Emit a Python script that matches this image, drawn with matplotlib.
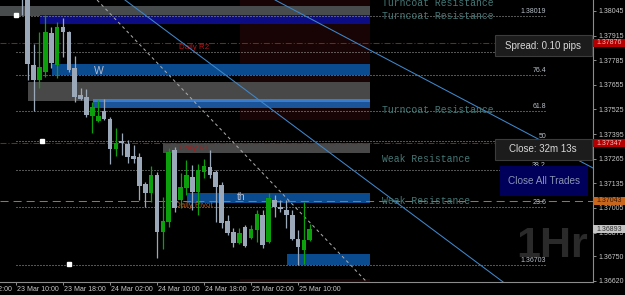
import matplotlib
matplotlib.use("Agg")
import matplotlib.pyplot as plt
import matplotlib.transforms as mtransforms
from matplotlib.patches import Rectangle

plt.rcParams['font.family'] = ['Liberation Sans', 'DejaVu Sans']
plt.rcParams['lines.scale_dashes'] = False

# ---------------- data (hourly candles, bar index 0 = 23 Mar 10:00) ----------------
bar_index = list(range(1, 51))
opens = [1.38182, 1.38119, 1.37760, 1.37681, 1.37723, 1.37929, 1.37760, 1.37960, 1.37934, 1.37744,
         1.37601, 1.37591, 1.37491, 1.37464, 1.37517, 1.37475, 1.37316, 1.37359, 1.37343, 1.37279,
         1.37274, 1.37131, 1.37084, 1.37179, 1.36878, 1.36931, 1.37311, 1.37047, 1.37110, 1.37168,
         1.37089, 1.37195, 1.37221, 1.37195, 1.37126, 1.36936, 1.36878, 1.36820, 1.36904, 1.36846,
         1.36889, 1.36968, 1.36825, 1.37047, 1.37010, 1.36994, 1.36968, 1.36841, 1.36783, 1.36836]
highs = [1.38235, 1.38156, 1.37871, 1.37934, 1.38024, 1.37960, 1.37987, 1.38008, 1.37939, 1.37807,
         1.37638, 1.37633, 1.37564, 1.37575, 1.37580, 1.37485, 1.37427, 1.37401, 1.37364, 1.37337,
         1.37295, 1.37142, 1.37226, 1.37195, 1.37063, 1.37322, 1.37327, 1.37189, 1.37258, 1.37231,
         1.37237, 1.37263, 1.37311, 1.37205, 1.37142, 1.36968, 1.36899, 1.36899, 1.36915, 1.36915,
         1.36994, 1.36994, 1.37084, 1.37075, 1.37047, 1.37047, 1.36994, 1.36889, 1.37037, 1.36920]
lows = [1.38024, 1.37681, 1.37517, 1.37638, 1.37696, 1.37744, 1.37691, 1.37802, 1.37723, 1.37564,
        1.37575, 1.37485, 1.37401, 1.37459, 1.37469, 1.37237, 1.37279, 1.37285, 1.37242, 1.37242,
        1.37047, 1.37010, 1.37037, 1.36741, 1.36788, 1.36904, 1.36984, 1.37005, 1.37075, 1.36994,
        1.36968, 1.37163, 1.37163, 1.36931, 1.36899, 1.36862, 1.36799, 1.36815, 1.36799, 1.36841,
        1.36825, 1.36794, 1.36820, 1.36957, 1.36984, 1.36899, 1.36836, 1.36704, 1.36709, 1.36831]
closes = [1.38129, 1.37765, 1.37681, 1.37749, 1.37934, 1.37770, 1.37960, 1.37934, 1.37733, 1.37591,
          1.37580, 1.37496, 1.37538, 1.37491, 1.37475, 1.37316, 1.37348, 1.37348, 1.37274, 1.37263,
          1.37121, 1.37084, 1.37179, 1.36878, 1.36936, 1.37300, 1.37005, 1.37116, 1.37179, 1.37089,
          1.37205, 1.37226, 1.37179, 1.37116, 1.36926, 1.36873, 1.36820, 1.36873, 1.36804, 1.36894,
          1.36973, 1.36810, 1.37058, 1.37010, 1.36999, 1.36968, 1.36841, 1.36799, 1.36836, 1.36893]

time_tick_bars = [-8, 0, 8, 16, 24, 32, 40, 48]
time_tick_labels = ["23 Mar 02:00", "23 Mar 10:00", "23 Mar 18:00", "24 Mar 02:00",
                    "24 Mar 10:00", "24 Mar 18:00", "25 Mar 02:00", "25 Mar 10:00"]

price_ticks = [1.38045, 1.37915, 1.37785, 1.37655, 1.37525, 1.37395,
               1.37265, 1.37135, 1.37005, 1.36875, 1.36750, 1.36620]
price_tick_labels = ["1.38045", "1.37915", "1.37785", "1.37655", "1.37525", "1.37395",
                     "1.37265", "1.37135", "1.37005", "1.36875", "1.36750", "1.36620"]

# supply / demand zones
zone_start = [-3, 4.1, 6.1, 2.0, 13.05, 13.05, 25.0, 29.1, 46.1]
zone_end = [60.3, 60.3, 60.3, 60.3, 60.3, 60.3, 60.3, 60.3, 60.3]
zone_top = [1.38071, 1.38024, 1.37765, 1.37670, 1.37575, 1.37580, 1.37348, 1.37084, 1.36762]
zone_bottom = [1.38019, 1.37976, 1.37707, 1.37570, 1.37533, 1.37564, 1.37295, 1.37031, 1.36704]
zone_colors = ['#484c4c', '#0c0c84', '#0a4a8e', '#484848', '#1b5499', '#3a7ccc',
               '#484848', '#0a4a8e', '#0a4a8e']

zone_labels = ["W", "th"]
zone_label_bars = [14.1, 38.3]
zone_label_prices = [1.37728, 1.37063]

sr_texts = ["Turncoat Resistance", "Turncoat Resistance", "Turncoat Resistance",
            "Weak Resistance", "Weak Resistance"]
sr_prices = [1.38088, 1.38019, 1.37522, 1.37264, 1.37042]
sr_bar = 62.3

pivot_names = ["Daily R2", "Daily R1", "Daily Pivot"]
pivot_prices = [1.37876, 1.37347, 1.37043]

fib_labels = ["1.38019", "85.4", "76.4", "61.8", "50", "38.2", "23.6", "1.36703"]
fib_prices = [1.38019, 1.37827, 1.37708, 1.37516, 1.37361, 1.37206, 1.37009, 1.36703]
fib_start, fib_end = 0, 90.0

trend_blue = [((18.55, 1.38103), (82.9, 1.36614)),
              ((44.1, 1.38103), (98.2, 1.37216))]
trend_gray = [((13.8, 1.38103), (59.7, 1.36614))]

marker_bars = [0, 4.4, 9]
marker_prices = [1.38024, 1.37359, 1.36709]

current_price = 1.36893
axis_box_prices = [1.37876, 1.37347, 1.37043, 1.36893]
axis_box_labels = ["1.37876", "1.37347", "1.37043", "1.36893"]
axis_box_fc = ['#b40000', '#b40000', '#c8661e', '#c4c4c4']
axis_box_tc = ['#ffb4b4', '#ffb4b4', '#3a1800', '#303030']

# ---------------- figure ----------------
FW, FH = 625, 295
fig = plt.figure(figsize=(FW / 100, FH / 100), dpi=100, facecolor='black')
ax = fig.add_axes([0, 13 / FH, 593 / FW, 282 / FH])
ax.set_facecolor('black')
ax.set_xlim(-2.72, 98.2)
ax.set_ylim(1.36614, 1.38103)
px_price = (1.38103 - 1.36614) / 282.0


def fx(p):
    return p / FW


def fy(p):
    return 1 - p / FH


# dark red backdrops
ax.add_patch(Rectangle((38.1, 1.37469), 22.2, 0.0080, fc='#180404', ec='none', zorder=0.5))
ax.add_patch(Rectangle((38.1, 1.36500), 22.2, 0.0013, fc='#180404', ec='none', zorder=0.5))

# zones
for s, e, t, b, c in zip(zone_start, zone_end, zone_top, zone_bottom, zone_colors):
    ax.add_patch(Rectangle((s, b), e - s, t - b, fc=c, ec='none', zorder=1))

for lbl, xb, yp in zip(zone_labels, zone_label_bars, zone_label_prices):
    ax.text(xb, yp, lbl, color='#b8bccc', fontsize=7.5, ha='center', va='center', zorder=1.5)

# fib lines
for lbl, p in zip(fib_labels, fib_prices):
    ax.plot([fib_start, fib_end], [p, p], color='#a8a8a8', lw=0.75,
            dashes=(0.72, 1.44), zorder=2)
    ax.annotate(lbl, (fib_end + 0.2, p), xytext=(0, 0.6), textcoords='offset points',
                ha='right', va='bottom', fontsize=5, color='#b8c0c8', zorder=2.1)

# pivot lines
for name, p in zip(pivot_names, pivot_prices):
    if name == "Daily Pivot":
        ax.axhline(p, color='#c0662a', lw=0.75, dashes=(5.8, 3.6), zorder=2)
        tc = '#b4561e'
    else:
        ax.axhline(p, color='#c80000', lw=0.75, dashes=(4.3, 1.4, 0.8, 1.4), zorder=2)
        tc = '#b01818'
    ax.annotate(name, (30.3, p), xytext=(0, -1.0), textcoords='offset points',
                ha='center', va='top', fontsize=5.8, color=tc, zorder=2.2)

# trend lines
for p1, p2 in trend_blue:
    ax.axline(p1, p2, color='#3f88cc', lw=0.75, zorder=2.3)
for p1, p2 in trend_gray:
    ax.axline(p1, p2, color='#a8a8a8', lw=0.75, dashes=(2.2, 2.2), zorder=2.3)

# S/R labels
for t, p in zip(sr_texts, sr_prices):
    ax.text(sr_bar, p, t, family='Liberation Mono', fontsize=7, color='#457876',
            ha='left', va='center', zorder=2.5)

# candles
for i, o, h, l, c in zip(bar_index, opens, highs, lows, closes):
    col = '#0ca00c' if c > o else '#9aa8ba'
    ax.vlines(i, l, h, color=col, lw=0.9, zorder=3.5)
    height = max(abs(c - o), px_price * 1.2)
    ax.bar(i, height, bottom=min(o, c), width=0.8, color=col, lw=0, zorder=4)

# markers
ax.plot(marker_bars, marker_prices, ls='none', marker='s', ms=2.3, color='white', zorder=4.5)

# 1Hr watermark
ax.text(fx(552), fy(246), "1Hr", transform=fig.transFigure,
        family=['Liberation Sans Narrow', 'Liberation Sans'],
        fontsize=31, weight='bold', color='#2a2a2a', ha='center', va='center', zorder=0.8)

# axes styling
for side in ['left', 'top']:
    ax.spines[side].set_visible(False)
for side in ['right', 'bottom']:
    ax.spines[side].set_color('#8c8c8c')
    ax.spines[side].set_linewidth(0.8)
ax.yaxis.tick_right()
ax.set_yticks(price_ticks)
ax.set_yticklabels(price_tick_labels)
ax.tick_params(axis='y', color='#8c8c8c', labelcolor='#c8c8c8', labelsize=5,
               length=2.4, width=0.7, pad=1.2, direction='out')
ax.set_xticks([b for b in time_tick_bars if b >= ax.get_xlim()[0]])
ax.set_xticklabels([])
ax.tick_params(axis='x', color='#8c8c8c', length=2.4, width=0.7, direction='out')

tr_x = mtransforms.blended_transform_factory(ax.transData, ax.transAxes)
for b, lbl in zip(time_tick_bars, time_tick_labels):
    ax.text(b + 0.17, -7.5 / 282, lbl, transform=tr_x, ha='left', va='center',
            fontsize=5, color='#c8c8c8', clip_on=False)

# price boxes on the right axis
tr_y = mtransforms.blended_transform_factory(ax.transAxes, ax.transData)
box_h = 8 * px_price
for p, lbl, fc, tc in zip(axis_box_prices, axis_box_labels, axis_box_fc, axis_box_tc):
    ax.add_patch(Rectangle((1.0, p - box_h / 2), 32 / 593, box_h, transform=tr_y,
                           fc=fc, ec='none', clip_on=False, zorder=6))
    ax.text(1.0 + 3 / 593, p, lbl, transform=tr_y, ha='left', va='center',
            fontsize=5, color=tc, clip_on=False, zorder=7)

# info panels
fig.add_artist(Rectangle((fx(495), fy(56)), 97 / FW, 21 / FH, transform=fig.transFigure,
                         fc='#1c1c1c', ec='#3c3c3c', lw=0.8, zorder=10))
fig.text(fx(543), fy(46), "Spread: 0.10 pips", ha='center', va='center', fontsize=7,
         color='#d8d8d8', zorder=11)
fig.add_artist(Rectangle((fx(495), fy(160)), 97 / FW, 21 / FH, transform=fig.transFigure,
                         fc='#1c1c1c', ec='#3c3c3c', lw=0.8, zorder=10))
fig.text(fx(543), fy(149.5), "Close: 32m 13s", ha='center', va='center', fontsize=7,
         color='#d8d8d8', zorder=11)
fig.add_artist(Rectangle((fx(500), fy(196)), 88 / FW, 30 / FH, transform=fig.transFigure,
                         fc='#00005a', ec='none', zorder=10))
fig.text(fx(544), fy(181), "Close All Trades", ha='center', va='center', fontsize=7.2,
         color='#8a94b2', zorder=11)

fig.savefig("out.png", dpi=100, facecolor='black')
